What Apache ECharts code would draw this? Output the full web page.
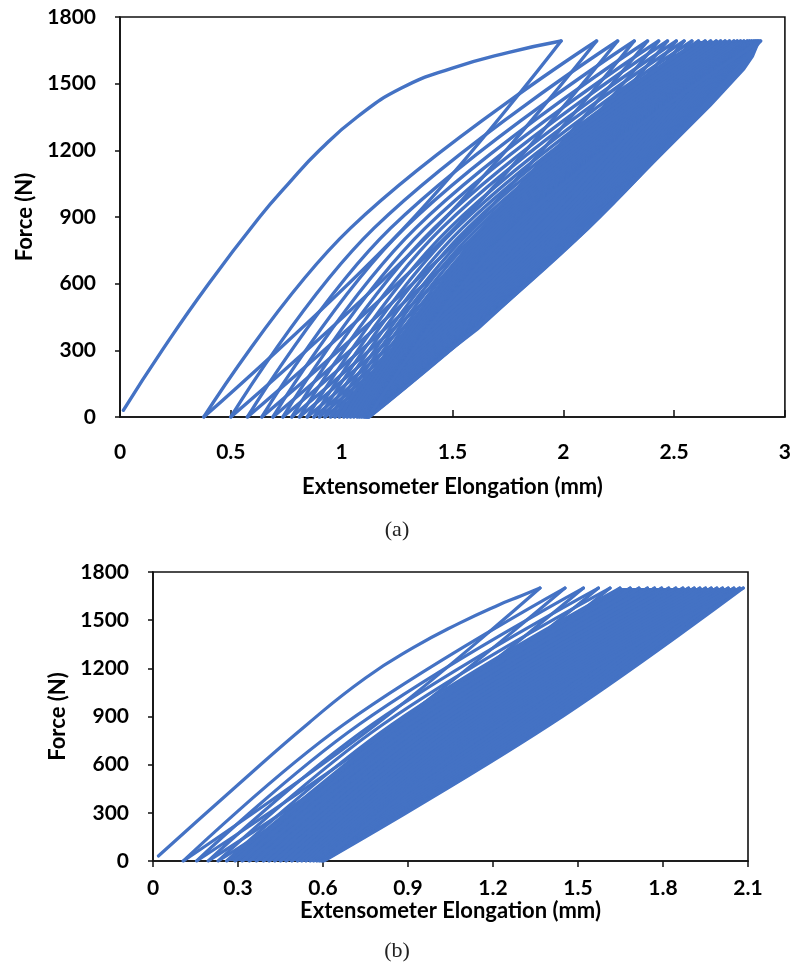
<!DOCTYPE html>
<html>
<head>
<meta charset="utf-8">
<title>Force vs extensometer elongation</title>
<script src="https://cdn.jsdelivr.net/npm/echarts@6/dist/echarts.min.js"></script>
<style>
  html, body { margin: 0; padding: 0; background: #ffffff; }
  #chart { width: 794px; height: 968px; }
</style>
</head>
<body>
<div id="chart"></div>
<script>
// ---------- (a) ----------
// first monotonic loading: [elongation mm, force N]
const firstLoadA = [[0.015, 30], [0.19, 300], [0.40, 600], [0.63, 900], [0.76, 1050], [0.90, 1200], [1.07, 1350], [1.27, 1480], [1.50, 1570], [1.75, 1640], [1.99, 1692]];
// elongation at each peak (F = 1692 N)
const peakA = [1.99, 2.15, 2.245, 2.32, 2.38, 2.43, 2.47, 2.51, 2.545, 2.58, 2.61, 2.64, 2.665, 2.69, 2.71, 2.73, 2.75, 2.77, 2.785, 2.80, 2.815, 2.83, 2.84, 2.85, 2.86, 2.868, 2.875, 2.882, 2.89];
// elongation where each unloading returns to F = 0
const valleyA = [0.378, 0.50, 0.575, 0.64, 0.69, 0.735, 0.775, 0.81, 0.845, 0.875, 0.90, 0.925, 0.95, 0.97, 0.99, 1.01, 1.025, 1.04, 1.055, 1.07, 1.08, 1.09, 1.10, 1.106, 1.111, 1.115, 1.119, 1.122, 1.125];
// elongation at F = 850 N on each unloading branch
const unloadMidA = [1.281, 1.424, 1.510, 1.581, 1.636, 1.684, 1.724, 1.762, 1.797, 1.830, 1.858, 1.885, 1.910, 1.933, 1.953, 1.973, 1.991, 2.009, 2.024, 2.039, 2.052, 2.064, 2.074, 2.083, 2.090, 2.097, 2.102, 2.108, 2.113];
// elongation at F = 850 N on each reloading branch (cycles 2 onward)
const reloadMidA = [1.040, 1.146, 1.221, 1.284, 1.334, 1.377, 1.417, 1.452, 1.487, 1.517, 1.544, 1.569, 1.594, 1.614, 1.634, 1.654, 1.671, 1.686, 1.701, 1.716, 1.728, 1.738, 1.748, 1.755, 1.761, 1.766, 1.771, 1.776];
// outline of the saturated band of overlapping late cycles
const coreA = [[0.96, 0], [1.25, 330], [1.58, 800], [1.90, 1160], [2.25, 1460], [2.50, 1630], [2.61, 1692], [2.89, 1692], [2.86, 1620], [2.82, 1561], [2.67, 1400], [2.45, 1180], [2.114, 841], [1.619, 391], [1.169, 45], [1.125, 0]];
const peakForceA = 1692;

// ---------- (b) ----------
const firstLoadB = [[0.019, 31], [0.30, 475], [0.55, 860], [0.75, 1140], [0.92, 1330], [1.08, 1480], [1.22, 1595], [1.30, 1652], [1.366, 1700]];
const peakB = [1.366, 1.454, 1.519, 1.572, 1.613, 1.648, 1.684, 1.715, 1.745, 1.77, 1.795, 1.82, 1.845, 1.87, 1.89, 1.91, 1.93, 1.95, 1.97, 1.99, 2.01, 2.03, 2.05, 2.07, 2.083];
const valleyB = [0.107, 0.154, 0.195, 0.23, 0.26, 0.29, 0.315, 0.34, 0.365, 0.39, 0.41, 0.43, 0.45, 0.47, 0.49, 0.51, 0.525, 0.54, 0.555, 0.567, 0.578, 0.587, 0.594, 0.599, 0.603];
const unloadMidB = [0.787, 0.856, 0.910, 0.955, 0.991, 1.023, 1.054, 1.083, 1.110, 1.135, 1.158, 1.181, 1.203, 1.226, 1.246, 1.266, 1.284, 1.301, 1.319, 1.335, 1.351, 1.366, 1.380, 1.393, 1.402];
const reloadMidB = [0.673, 0.727, 0.773, 0.811, 0.843, 0.875, 0.903, 0.930, 0.955, 0.980, 1.002, 1.024, 1.046, 1.066, 1.086, 1.106, 1.124, 1.141, 1.158, 1.173, 1.188, 1.201, 1.214, 1.222];
const coreB = [[0.26, 0], [0.55, 430], [0.843, 850], [1.27, 1330], [1.648, 1700], [2.083, 1700], [2.04, 1650], [1.601, 1085], [1.095, 504], [0.603, 0]];
const peakForceB = 1700;

const midForce = 850;

// axis ticks
const forceTicks = { min: 0, max: 1800, interval: 300 };
const elongTicksA = { min: 0, max: 3, interval: 0.5 };
const elongTicksB = { min: 0, max: 2.1, interval: 0.3 };

const BLUE = '#4472C4';
const TICK_FONT = { fontFamily: 'Lato', fontWeight: 'bold', fontSize: 21, color: '#000' };
const NAME_FONT = { fontFamily: 'Lato', fontWeight: 'bold', fontSize: 22, color: '#000' };

function branchSeries(data, idx, width, smooth) {
  return {
    type: 'line', xAxisIndex: idx, yAxisIndex: idx,
    data: data, smooth: smooth,
    showSymbol: false, symbol: 'none',
    lineStyle: { color: BLUE, width: width, cap: 'round', join: 'round' },
    silent: true, animation: false, z: 3
  };
}

function coreSeries(poly, idx) {
  return {
    type: 'custom', xAxisIndex: idx, yAxisIndex: idx, data: [0], clip: true,
    silent: true, animation: false, z: 2,
    renderItem: function (params, api) {
      return { type: 'polygon', shape: { points: poly.map(p => api.coord(p)) }, style: { fill: BLUE } };
    }
  };
}

function cycleSeries(firstLoad, peaks, valleys, unloadMid, reloadMid, peakF, idx, width) {
  const out = [branchSeries(firstLoad, idx, width, 0.5)];
  for (let i = 0; i < peaks.length; i++) {
    if (i > 0) {
      out.push(branchSeries([[valleys[i - 1], 0], [reloadMid[i - 1], midForce], [peaks[i], peakF]], idx, width, 0.4));
    }
    out.push(branchSeries([[peaks[i], peakF], [unloadMid[i], midForce], [valleys[i], 0]], idx, width, 0.4));
  }
  return out;
}

const plainNumber = v => String(Math.round(v * 100) / 100);

function xAxisCfg(idx, t, tickInside, nameGap) {
  return {
    type: 'value', gridIndex: idx, min: t.min, max: t.max, interval: t.interval,
    name: 'Extensometer Elongation (mm)', nameLocation: 'middle', nameGap: nameGap,
    nameTextStyle: NAME_FONT,
    axisLine: { show: true, onZero: false, lineStyle: { color: '#111', width: 1.6 } },
    axisTick: { show: true, inside: tickInside, length: tickInside ? 7 : 6, lineStyle: { color: '#111', width: 1.5 } },
    axisLabel: Object.assign({ margin: tickInside ? 25 : 17, formatter: plainNumber }, TICK_FONT),
    splitLine: { show: false }
  };
}

function yAxisCfg(idx, nameGap) {
  return {
    type: 'value', gridIndex: idx, min: forceTicks.min, max: forceTicks.max, interval: forceTicks.interval,
    name: 'Force (N)', nameLocation: 'middle', nameGap: nameGap, nameRotate: 90,
    nameTextStyle: NAME_FONT,
    axisLine: { show: true, lineStyle: { color: '#111', width: 1.6 } },
    axisTick: { show: true, inside: false, length: 5, lineStyle: { color: '#111', width: 1.5 } },
    axisLabel: Object.assign({ margin: 24, formatter: plainNumber }, TICK_FONT),
    splitLine: { show: false }
  };
}

const chart = echarts.init(document.getElementById('chart'), null, { renderer: 'canvas' });
chart.setOption({
  backgroundColor: '#ffffff',
  animation: false,
  title: [
    { text: '(a)', left: 'center', top: 514, textStyle: { fontFamily: 'Liberation Serif', fontWeight: 'normal', fontSize: 22, color: '#222' } },
    { text: '(b)', left: 'center', top: 935, textStyle: { fontFamily: 'Liberation Serif', fontWeight: 'normal', fontSize: 22, color: '#222' } }
  ],
  grid: [
    { left: 120, top: 17, width: 667, height: 400, show: true, borderColor: '#111', borderWidth: 1.6, backgroundColor: 'transparent' },
    { left: 153, top: 572, width: 595, height: 289, show: true, borderColor: '#111', borderWidth: 1.6, backgroundColor: 'transparent' }
  ],
  xAxis: [xAxisCfg(0, elongTicksA, true, 59), xAxisCfg(1, elongTicksB, false, 33)],
  yAxis: [yAxisCfg(0, 68), yAxisCfg(1, 72)],
  series: [].concat(
    [coreSeries(coreA, 0)],
    cycleSeries(firstLoadA, peakA, valleyA, unloadMidA, reloadMidA, peakForceA, 0, 3.4),
    [coreSeries(coreB, 1)],
    cycleSeries(firstLoadB, peakB, valleyB, unloadMidB, reloadMidB, peakForceB, 1, 3.2)
  )
});
</script>
</body>
</html>
